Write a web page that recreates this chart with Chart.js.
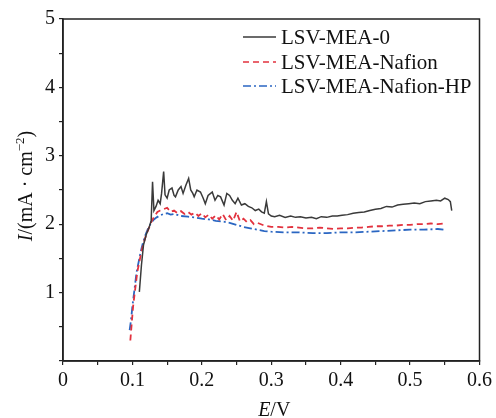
<!DOCTYPE html>
<html>
<head>
<meta charset="utf-8">
<script src="https://cdn.jsdelivr.net/npm/chart.js@4.4.0/dist/chart.umd.min.js"></script>
<style>
  html, body { margin: 0; padding: 0; background: #fff; }
  canvas { display: block; }
</style>
</head>
<body>
<canvas id="lsvChart" width="496" height="418"></canvas>
<script>
// LSV-MEA-0
const e0 = [0.110, 0.113, 0.116, 0.120, 0.124, 0.127, 0.129, 0.131, 0.134, 0.137, 0.140, 0.142, 0.145, 0.147, 0.150, 0.153, 0.157, 0.160, 0.162, 0.166, 0.170, 0.173, 0.177, 0.181, 0.184, 0.187, 0.189, 0.193, 0.198, 0.202, 0.205, 0.209, 0.215, 0.219, 0.223, 0.227, 0.232, 0.236, 0.240, 0.244, 0.248, 0.252, 0.257, 0.262, 0.267, 0.272, 0.277, 0.282, 0.286, 0.290, 0.293, 0.296, 0.300, 0.305, 0.312, 0.320, 0.328, 0.335, 0.342, 0.350, 0.358, 0.365, 0.372, 0.380, 0.388, 0.395, 0.402, 0.410, 0.418, 0.426, 0.434, 0.442, 0.450, 0.458, 0.466, 0.474, 0.482, 0.490, 0.498, 0.506, 0.514, 0.522, 0.530, 0.538, 0.544, 0.550, 0.555, 0.558, 0.560]
const i0 = [1.01, 1.40, 1.70, 1.85, 1.95, 2.05, 2.62, 2.20, 2.26, 2.35, 2.30, 2.45, 2.77, 2.43, 2.38, 2.50, 2.53, 2.42, 2.40, 2.50, 2.55, 2.45, 2.57, 2.67, 2.50, 2.45, 2.40, 2.50, 2.47, 2.38, 2.30, 2.42, 2.47, 2.35, 2.42, 2.40, 2.28, 2.45, 2.42, 2.35, 2.30, 2.38, 2.28, 2.30, 2.26, 2.24, 2.20, 2.22, 2.18, 2.16, 2.33, 2.15, 2.12, 2.11, 2.13, 2.10, 2.12, 2.10, 2.11, 2.09, 2.10, 2.08, 2.11, 2.10, 2.12, 2.12, 2.13, 2.14, 2.16, 2.17, 2.18, 2.20, 2.22, 2.23, 2.26, 2.25, 2.28, 2.29, 2.30, 2.31, 2.30, 2.33, 2.34, 2.35, 2.34, 2.38, 2.36, 2.33, 2.20]

// LSV-MEA-Nafion
const eNafion = [0.097, 0.099, 0.101, 0.104, 0.107, 0.110, 0.113, 0.116, 0.120, 0.124, 0.128, 0.132, 0.136, 0.140, 0.145, 0.150, 0.155, 0.160, 0.165, 0.170, 0.175, 0.180, 0.185, 0.190, 0.195, 0.200, 0.205, 0.210, 0.215, 0.220, 0.225, 0.230, 0.235, 0.240, 0.245, 0.250, 0.255, 0.260, 0.265, 0.270, 0.275, 0.280, 0.290, 0.300, 0.310, 0.320, 0.330, 0.340, 0.350, 0.360, 0.370, 0.380, 0.390, 0.400, 0.410, 0.420, 0.430, 0.440, 0.450, 0.460, 0.470, 0.480, 0.490, 0.500, 0.510, 0.520, 0.530, 0.540, 0.550]
const iNafion = [0.30, 0.55, 0.80, 1.05, 1.30, 1.45, 1.60, 1.72, 1.85, 1.95, 2.05, 2.12, 2.18, 2.20, 2.22, 2.24, 2.18, 2.20, 2.16, 2.19, 2.15, 2.18, 2.14, 2.17, 2.12, 2.16, 2.10, 2.14, 2.08, 2.13, 2.07, 2.15, 2.06, 2.12, 2.05, 2.18, 2.04, 2.08, 2.03, 2.06, 2.00, 2.02, 1.98, 1.96, 1.96, 1.95, 1.96, 1.95, 1.94, 1.94, 1.95, 1.94, 1.93, 1.94, 1.94, 1.95, 1.95, 1.96, 1.97, 1.97, 1.98, 1.98, 1.99, 1.99, 2.00, 2.00, 2.01, 2.00, 2.01]

// LSV-MEA-Nafion-HP
const eHP = [0.096, 0.098, 0.100, 0.103, 0.106, 0.109, 0.112, 0.115, 0.119, 0.123, 0.127, 0.131, 0.135, 0.140, 0.145, 0.150, 0.155, 0.160, 0.170, 0.180, 0.190, 0.200, 0.210, 0.220, 0.230, 0.240, 0.250, 0.260, 0.270, 0.280, 0.290, 0.300, 0.320, 0.340, 0.360, 0.380, 0.400, 0.420, 0.440, 0.460, 0.480, 0.500, 0.520, 0.540, 0.550]
const iHP = [0.45, 0.60, 0.80, 1.05, 1.30, 1.45, 1.60, 1.72, 1.85, 1.95, 2.02, 2.07, 2.10, 2.13, 2.15, 2.16, 2.14, 2.15, 2.12, 2.11, 2.10, 2.08, 2.07, 2.05, 2.04, 2.02, 1.99, 1.96, 1.94, 1.92, 1.90, 1.89, 1.88, 1.88, 1.87, 1.87, 1.88, 1.88, 1.89, 1.90, 1.91, 1.92, 1.92, 1.93, 1.92]

const seriesNames = ['LSV-MEA-0', 'LSV-MEA-Nafion', 'LSV-MEA-Nafion-HP']
const xTicks = [0, 0.1, 0.2, 0.3, 0.4, 0.5, 0.6]
const yTicks = [1, 2, 3, 4, 5]

const serif = '"Liberation Serif", "DejaVu Serif", serif'
const toPoints = (xs, ys) => xs.map((x, k) => ({ x: x, y: ys[k] }))

// frame, legend and axis titles (italic / superscript parts)
const extras = {
    id: 'extras',
    afterDraw(chart) {
        const c = chart.ctx
        const a = chart.chartArea
        c.save()
        c.strokeStyle = '#222'
        c.lineWidth = 1.5
        c.strokeRect(a.left, a.top, a.right - a.left, a.bottom - a.top)

        // legend
        const sets = chart.data.datasets
        const rows = [37, 62, 86]
        c.font = '21px ' + serif
        c.textBaseline = 'middle'
        sets.forEach((ds, k) => {
            const y = rows[k]
            c.beginPath()
            c.setLineDash(ds.borderDash || [])
            c.strokeStyle = ds.borderColor
            c.lineWidth = 1.6
            c.moveTo(243, y)
            c.lineTo(276, y)
            c.stroke()
            c.setLineDash([])
            c.fillStyle = '#111'
            c.textAlign = 'left'
            c.fillText(ds.label, 281, y + 1.5)
        })

        // x title: E/V
        c.fillStyle = '#111'
        c.textBaseline = 'alphabetic'
        const xt = [['E', 'italic 20px ' + serif], ['/V', '20px ' + serif]]
        let w = 0
        xt.forEach(p => { c.font = p[1]; w += c.measureText(p[0]).width })
        let x = (a.left + a.right) / 2 + 3 - w / 2
        xt.forEach(p => { c.font = p[1]; c.textAlign = 'left'; c.fillText(p[0], x, 416); x += c.measureText(p[0]).width })

        // y title: I/(mA · cm^-2)
        c.translate(32, 186)
        c.rotate(-Math.PI / 2)
        const yt = [['I', 'italic 20px ' + serif, 0], ['/(mA · cm', '20px ' + serif, 0], ['−2', '13px ' + serif, -8], [')', '20px ' + serif, 0]]
        w = 0
        yt.forEach(p => { c.font = p[1]; w += c.measureText(p[0]).width })
        x = -w / 2
        yt.forEach(p => { c.font = p[1]; c.fillText(p[0], x, p[2]); x += c.measureText(p[0]).width })
        c.restore()
    }
}

const ctx = document.getElementById('lsvChart').getContext('2d')
const lsvChart = new Chart(ctx, {
    type: 'line',
    data: {
        datasets: [{
            label: seriesNames[0],
            data: toPoints(e0, i0),
            borderColor: '#3a3a3a',
            borderWidth: 1.5
        }, {
            label: seriesNames[1],
            data: toPoints(eNafion, iNafion),
            borderColor: '#e2323e',
            borderWidth: 1.8,
            borderDash: [6, 4]
        }, {
            label: seriesNames[2],
            data: toPoints(eHP, iHP),
            borderColor: '#2a66c2',
            borderWidth: 1.8,
            borderDash: [8, 3, 2, 3]
        }]
    },
    options: {
        responsive: false,
        animation: false,
        devicePixelRatio: 1,
        layout: { padding: { top: 19, right: 11, left: 0, bottom: 0 } },
        elements: { point: { radius: 0 }, line: { tension: 0 } },
        plugins: { legend: { display: false }, tooltip: { enabled: false } },
        scales: {
            x: {
                type: 'linear',
                min: 0,
                max: 0.6,
                afterFit: s => { s.height = 57 },
                grid: { drawOnChartArea: false, tickLength: 4, color: '#222', lineWidth: 1.2 },
                border: { color: '#222', width: 1.5 },
                ticks: {
                    stepSize: 0.05,
                    autoSkip: false,
                    maxRotation: 0,
                    padding: 4,
                    color: '#111',
                    font: { family: serif, size: 20 },
                    callback: v => {
                        const t = xTicks.find(q => Math.abs(q - v) < 1e-6)
                        return t === undefined ? '' : String(t)
                    }
                }
            },
            y: {
                min: 0,
                max: 5,
                afterFit: s => { s.width = 63 },
                grid: { drawOnChartArea: false, tickLength: 4, color: '#222', lineWidth: 1.2 },
                border: { color: '#222', width: 1.5 },
                ticks: {
                    stepSize: 0.5,
                    autoSkip: false,
                    padding: 4,
                    color: '#111',
                    font: { family: serif, size: 20 },
                    callback: v => {
                        const t = yTicks.find(q => Math.abs(q - v) < 1e-6)
                        return t === undefined ? '' : String(t)
                    }
                }
            }
        }
    },
    plugins: [extras]
})
</script>
</body>
</html>
